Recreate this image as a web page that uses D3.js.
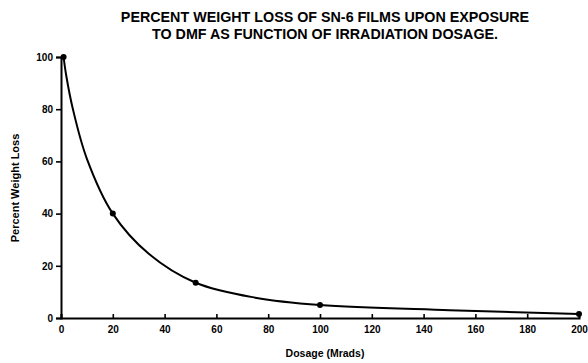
<!DOCTYPE html>
<html>
<head>
<meta charset="utf-8">
<script src="https://cdn.jsdelivr.net/npm/d3@7"></script>
<style>
  body { margin: 0; background: #fff; }
  text { font-family: "Liberation Sans", Arial, sans-serif; font-weight: bold; fill: #000; }
</style>
</head>
<body>
<svg id="chart" width="588" height="363"></svg>
<script>
// ─── data ───
const dosePoints = [1, 20, 52, 100, 200];
const lossPoints = [100, 40, 13.5, 5, 1.5];

// smooth fitted curve (estimated from the drawn line)
const curveDose = [1, 2, 4.6, 10, 20, 34, 52, 75, 100, 150, 200];
const curveLoss = [100, 93, 80, 61, 40, 24.5, 13.5, 7.8, 5, 3, 1.5];

const xTicks = [0, 20, 40, 60, 80, 100, 120, 140, 160, 180, 200];
const yTicks = [0, 20, 40, 60, 80, 100];

const titleLines = [
  "PERCENT WEIGHT LOSS OF SN-6 FILMS UPON EXPOSURE",
  "TO DMF AS FUNCTION OF IRRADIATION DOSAGE."
];

const svg = d3.select("#chart");
const margin = { top: 57, right: 9, bottom: 45, left: 61 };
const W = 588, H = 363;
const width = W - margin.left - margin.right;
const height = H - margin.top - margin.bottom;

const g = svg.append("g").attr("transform", `translate(${margin.left},${margin.top})`);

const x = d3.scaleLinear().domain([0, 200]).range([0, width]);
const y = d3.scaleLinear().domain([0, 100]).range([height, 0]);

// title
titleLines.forEach((t, i) => {
  svg.append("text")
    .attr("x", 325).attr("y", 22 + i * 17)
    .attr("text-anchor", "middle")
    .attr("font-size", "14.3px")
    .text(t);
});

// axes
const xAx = g.append("g").attr("transform", `translate(0,${height})`)
  .call(d3.axisBottom(x).tickValues(xTicks).tickSize(-4).tickPadding(6));
const yAx = g.append("g")
  .call(d3.axisLeft(y).tickValues(yTicks).tickSize(5).tickPadding(3));

[xAx, yAx].forEach(ax => {
  ax.select(".domain").attr("stroke", "#000").attr("stroke-width", 2);
  ax.selectAll(".tick line").attr("stroke", "#000").attr("stroke-width", 1.6);
  ax.selectAll("text").attr("font-size", "10px").attr("font-family", "Liberation Sans, Arial, sans-serif")
    .attr("font-weight", "bold").attr("fill", "#000");
});
xAx.selectAll(".tick text").attr("dy", "0.85em");

// curve
const curveData = curveDose.map((d, i) => ({ d, v: curveLoss[i] }));
g.append("path")
  .datum(curveData)
  .attr("fill", "none")
  .attr("stroke", "#000")
  .attr("stroke-width", 2)
  .attr("d", d3.line().x(p => x(p.d)).y(p => y(p.v)).curve(d3.curveCatmullRom.alpha(0.5)));

// points
g.selectAll("circle.pt")
  .data(dosePoints.map((d, i) => ({ d, v: lossPoints[i] })))
  .join("circle")
  .attr("class", "pt")
  .attr("cx", p => x(p.d)).attr("cy", p => y(p.v))
  .attr("r", 3).attr("fill", "#000");

// axis titles
svg.append("text")
  .attr("x", 325).attr("y", 357)
  .attr("text-anchor", "middle").attr("font-size", "10.5px")
  .text("Dosage (Mrads)");

svg.append("text")
  .attr("transform", "translate(19,188) rotate(-90)")
  .attr("text-anchor", "middle").attr("font-size", "11px")
  .text("Percent Weight Loss");
</script>
</body>
</html>
